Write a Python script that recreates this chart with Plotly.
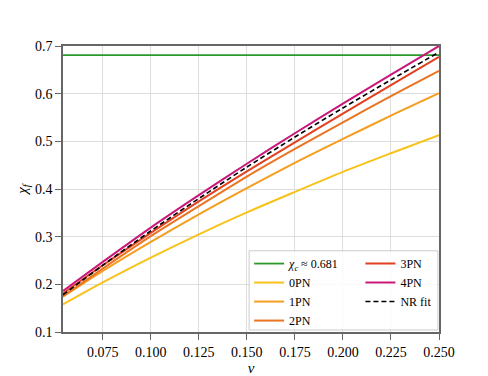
import plotly.graph_objects as go

# 数据：质量比 nu 与终态自旋 chi_f
nu = [0.0543, 0.075, 0.100, 0.125, 0.150, 0.175, 0.200, 0.225, 0.250]
chi_c = 0.681
pn0 = [0.158, 0.204, 0.256, 0.305, 0.351, 0.394, 0.436, 0.475, 0.513]
pn1 = [0.174, 0.228, 0.289, 0.347, 0.402, 0.455, 0.505, 0.554, 0.601]
pn2 = [0.175, 0.233, 0.301, 0.364, 0.426, 0.484, 0.540, 0.595, 0.648]
pn3 = [0.181, 0.240, 0.308, 0.374, 0.437, 0.498, 0.558, 0.618, 0.677]
pn4 = [0.186, 0.247, 0.319, 0.387, 0.453, 0.517, 0.579, 0.640, 0.700]
nr_fit = [0.178, 0.240, 0.312, 0.380, 0.446, 0.509, 0.570, 0.629, 0.687]

x_ticks = [0.075, 0.100, 0.125, 0.150, 0.175, 0.200, 0.225, 0.250]
y_ticks = [0.1, 0.2, 0.3, 0.4, 0.5, 0.6, 0.7]

FONT = "'Liberation Serif', 'Times New Roman', 'DejaVu Serif', serif"

fig = go.Figure()

# 水平线 chi_c
fig.add_trace(go.Scatter(
    x=[nu[0], nu[-1]], y=[chi_c, chi_c], mode='lines',
    name='<i>χ</i><sub><i>c</i></sub> ≈ 0.681',
    line=dict(color='#2a9a2a', width=1.8), legend='legend', legendrank=1
))

series = [
    ('0PN', pn0, '#f7c31a', 'legend', 2),
    ('1PN', pn1, '#f59d1e', 'legend', 3),
    ('2PN', pn2, '#ea7422', 'legend', 4),
    ('3PN', pn3, '#e2401f', 'legend2', 5),
    ('4PN', pn4, '#c9187a', 'legend2', 6),
]
for name, vals, color, leg, rank in series:
    fig.add_trace(go.Scatter(
        x=nu, y=vals, mode='lines', name=name,
        line=dict(color=color, width=2, shape='spline', smoothing=0.8),
        legend=leg, legendrank=rank
    ))

fig.add_trace(go.Scatter(
    x=nu, y=nr_fit, mode='lines', name='NR fit',
    line=dict(color='black', width=1.6, dash='5px,3px', shape='spline', smoothing=0.8),
    legend='legend2', legendrank=7
))

# 图例背景框
fig.add_shape(
    type='rect', xref='paper', yref='paper',
    x0=0.495, x1=0.997, y0=0.007, y1=0.284,
    fillcolor='rgba(255,255,255,0.85)',
    line=dict(color='#cccccc', width=1), layer='above'
)

axis_common = dict(
    showline=True, linecolor='#666666', linewidth=1.5, mirror=True,
    ticks='outside', ticklen=6, tickcolor='#666666',
    showgrid=True, gridcolor='#dddddd', gridwidth=1,
    zeroline=False, tickfont=dict(family=FONT, size=14, color='black')
)

fig.update_layout(
    width=488, height=376,
    margin=dict(l=54, r=57, t=38, b=42),
    plot_bgcolor='white', paper_bgcolor='white',
    font=dict(family=FONT, size=13, color='black'),
    xaxis=dict(
        range=[0.0543, 0.25], tickvals=x_ticks, tickformat='.3f',
        title=dict(text='<i>ν</i>', standoff=2, font=dict(family=FONT, size=15)),
        **axis_common
    ),
    yaxis=dict(
        range=[0.1, 0.7], tickvals=y_ticks, tickformat='.1f',
        title=dict(text='<i>χ</i><sub><i>f</i></sub>', standoff=4, font=dict(family=FONT, size=15)),
        **axis_common
    ),
    legend=dict(
        x=0.495, y=0.29, xanchor='left', yanchor='top',
        bgcolor='rgba(0,0,0,0)', borderwidth=0,
        font=dict(family=FONT, size=12), tracegroupgap=0
    ),
    legend2=dict(
        x=0.791, y=0.29, xanchor='left', yanchor='top',
        bgcolor='rgba(0,0,0,0)', borderwidth=0,
        font=dict(family=FONT, size=12), tracegroupgap=0
    ),
)

fig.write_html("out.html")
